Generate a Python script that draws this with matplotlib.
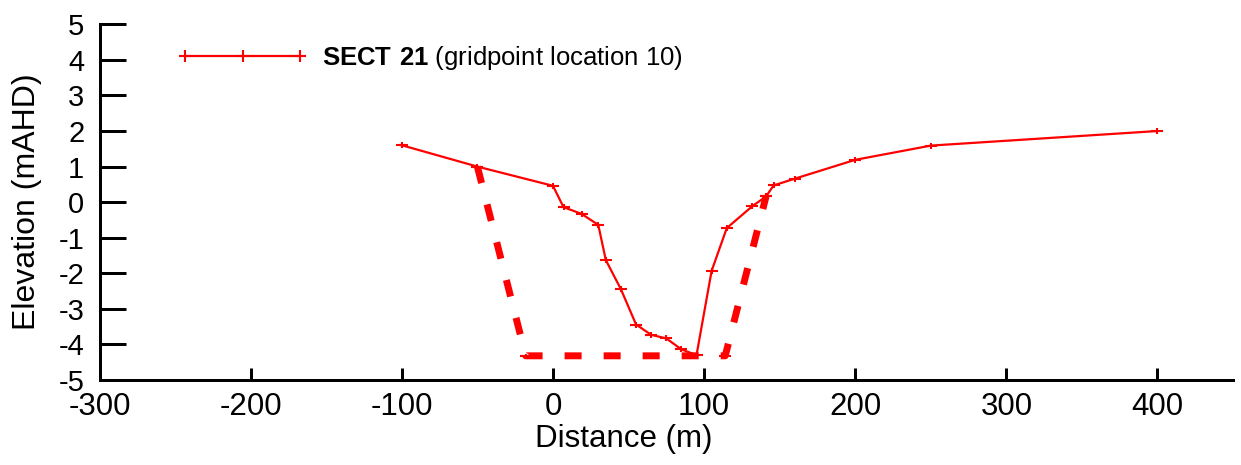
import matplotlib
matplotlib.use("Agg")
import matplotlib.pyplot as plt
from matplotlib.path import Path
from matplotlib.lines import Line2D

plt.rcParams["font.family"] = ["Liberation Sans", "DejaVu Sans"]
plt.rcParams["axes.unicode_minus"] = False
plt.rcParams["mathtext.fontset"] = "custom"
plt.rcParams["mathtext.rm"] = "Liberation Sans"
plt.rcParams["mathtext.bf"] = "Liberation Sans:bold"

# Surveyed cross-section (distance m, elevation mAHD)
section_x = [-100, -50, 0, 7, 19, 30, 35, 45, 55, 65, 75, 85, 95,
             105, 115, 132, 141, 146, 160, 200, 250, 400]
section_z = [1.6, 1.0, 0.46, -0.14, -0.33, -0.64, -1.63, -2.45, -3.44,
             -3.73, -3.83, -4.14, -4.3, -1.93, -0.73, -0.11, 0.16, 0.47,
             0.66, 1.19, 1.59, 2.0]

# Design channel profile
design_x = [-50, -18, 114, 141]
design_z = [1.0, -4.32, -4.32, 0.16]

x_ticks = [-300, -200, -100, 0, 100, 200, 300, 400]
y_ticks = [-5, -4, -3, -2, -1, 0, 1, 2, 3, 4, 5]

red = "#ff0000"

# flat plus marker: wide horizontal arm, short vertical arm
flat_plus = Path([(-1, 0), (1, 0), (0, -0.45), (0, 0.45)],
                 [Path.MOVETO, Path.LINETO, Path.MOVETO, Path.LINETO])

fig = plt.figure(figsize=(12.41, 4.65), dpi=100)
ax = fig.add_axes([0.0802, 0.1828, 0.9134, 0.7649])

ax.plot(section_x, section_z, color=red, lw=1.6, marker=flat_plus,
        ms=8.6, mew=1.5, zorder=3)
ax.plot(design_x, design_z, color=red, lw=5, dashes=(2.45, 3.17),
        dash_capstyle="butt", marker=flat_plus, ms=8.0, mew=1.5, zorder=3)

ax.set_xlim(-300, 450)
ax.set_ylim(-5, 5)
ax.set_xticks(x_ticks)
ax.set_yticks(y_ticks)

for side in ("top", "right"):
    ax.spines[side].set_visible(False)
for side in ("left", "bottom"):
    ax.spines[side].set_linewidth(2.16)

ax.tick_params(axis="x", direction="in", length=8.6, width=2.16,
               labelsize=22.5, pad=9)
ax.tick_params(axis="y", direction="in", length=18.7, width=2.16,
               labelsize=21, pad=11)

ax.set_xlabel("Distance (m)", fontsize=22.5, va="center")
ax.xaxis.set_label_coords(0.4627, -0.165)
ax.set_ylabel("Elevation (mAHD)", fontsize=23, va="center")
ax.yaxis.set_label_coords(-0.064, 0.5)

handle = Line2D([], [], color=red, lw=1.6, marker="+", ms=9, mew=1.5)
ax.legend([handle], [r"$\mathbf{SECT\ 21}$ (gridpoint location 10)"],
          loc="center left", bbox_to_anchor=(0.0688, 0.9066),
          frameon=False, borderpad=0, borderaxespad=0, numpoints=3,
          handlelength=5.06, handletextpad=0.57, fontsize=18.5)

fig.savefig("out.png", dpi=100)
